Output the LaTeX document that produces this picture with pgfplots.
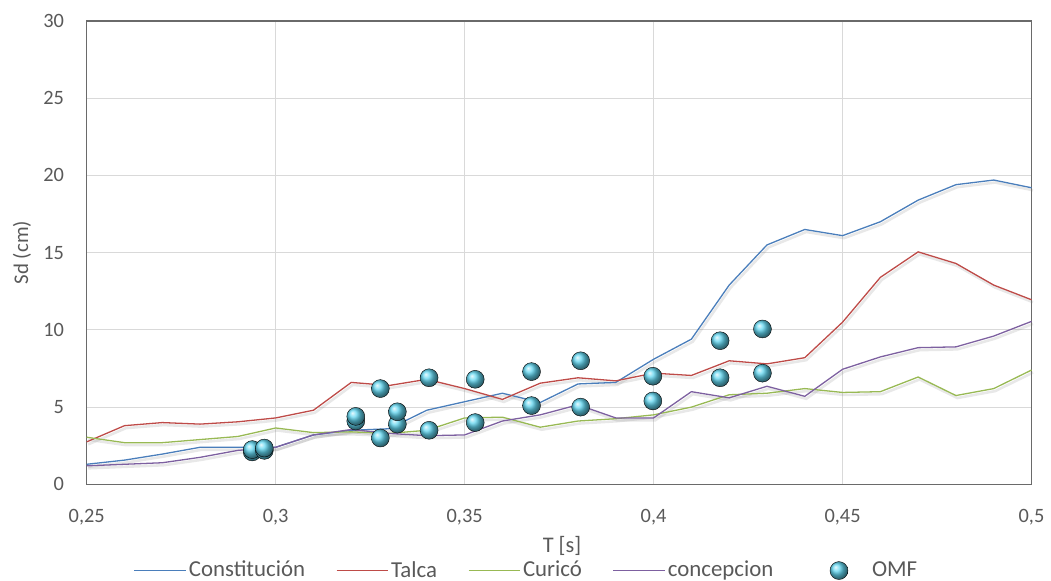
\documentclass[border=0pt]{standalone}
\usepackage{pgfplots}
\pgfplotsset{compat=1.18}
\usepackage{pgfplotstable}
\usepackage{fontspec}
\setmainfont{Carlito}
\definecolor{cblue}{HTML}{4A7EBB}
\definecolor{cred}{HTML}{BE4B48}
\definecolor{cgreen}{HTML}{98B954}
\definecolor{cpurple}{HTML}{7D60A0}
\definecolor{comf}{HTML}{62D6F0}
\definecolor{txt}{HTML}{595959}
\definecolor{gridc}{HTML}{D9D9D9}
\pgfplotsset{
  linelegend/.style={legend image code/.code={\draw[##1, line width=1.3pt] (0bp,0bp) -- (52bp,0bp);}},
  balllegend/.style={legend image code/.code={\draw[##1] plot coordinates {(35bp,0bp)}; \node[draw=none, fill=none, inner sep=0pt, minimum width=66bp, minimum height=2bp, anchor=west] at (0bp,0bp) {};}},
}
\pgfplotstableread{
T     con   tal   cur   cep
0.25  1.30  2.75  3.05  1.20
0.26  1.57  3.80  2.70  1.30
0.27  1.96  4.00  2.70  1.40
0.28  2.40  3.90  2.90  1.75
0.29  2.40  4.05  3.10  2.20
0.30  2.40  4.30  3.65  2.40
0.31  3.20  4.80  3.35  3.20
0.32  3.50  6.60  3.40  3.55
0.33  3.60  6.40  3.30  3.30
0.34  4.80  6.80  3.50  3.15
0.35  5.35  6.20  4.30  3.20
0.36  5.90  5.50  4.35  4.10
0.37  5.30  6.55  3.70  4.50
0.38  6.50  6.90  4.10  5.15
0.39  6.60  6.70  4.25  4.30
0.40  8.10  7.20  4.50  4.30
0.41  9.40  7.05  5.00  6.00
0.42  12.9  8.00  5.80  5.60
0.43  15.5  7.80  5.90  6.35
0.44  16.5  8.20  6.20  5.70
0.45  16.1  10.5  5.95  7.45
0.46  17.0  13.4  6.00  8.25
0.47  18.4  15.05 6.95  8.85
0.48  19.4  14.3  5.75  8.90
0.49  19.7  12.9  6.20  9.60
0.50  19.2  11.95 7.40  10.55
}\lines
\pgfplotstableread{
T      sd
0.2938 2.10
0.2938 2.25
0.2970 2.20
0.2970 2.35
0.3212 4.10
0.3212 4.40
0.3277 6.20
0.3277 3.00
0.3322 3.90
0.3322 4.70
0.3406 6.90
0.3406 3.50
0.3528 6.80
0.3528 4.00
0.3677 7.30
0.3677 5.10
0.3807 8.00
0.3807 5.00
0.3998 7.00
0.3998 5.40
0.4176 9.30
0.4176 6.90
0.4288 10.06
0.4288 7.20
}\omf
\begin{document}
\fontsize{20}{24}\selectfont
\begin{tikzpicture}
\begin{axis}[
  name=ax, at={(0,0)}, anchor=south west,
  scale only axis, width=948bp, height=465bp,
  xmin=0.25, xmax=0.5, ymin=0, ymax=30,
  xtick={0.25,0.3,0.35,0.4,0.45,0.5},
  ytick={0,5,10,15,20,25,30},
  xticklabels={{0,25},{0,3},{0,35},{0,4},{0,45},{0,5}},
  /pgf/number format/assume math mode=true,
  major tick length=0pt,
  grid=major,
  major grid style={gridc, line width=1.2pt},
  axis line style={draw=txt!90, line width=1.4pt},
  tick label style={text=txt, font=\fontsize{20.5}{24}\selectfont},
  yticklabel style={xshift=-16bp},
  xticklabel style={yshift=-18bp},
  xlabel={T [s]}, ylabel={Sd (cm)},
  every axis x label/.style={at={(axis description cs:0.503,-0.133)},anchor=center,text=txt,font=\fontsize{22.5}{24}\selectfont},
  every axis y label/.style={at={(axis description cs:-0.0686,0.5)},rotate=90,anchor=center,text=txt,font=\fontsize{21}{24}\selectfont},
  legend columns=5,
  legend style={at={(axis description cs:0.0496,-0.186)}, anchor=west, draw=none, fill=none,
    inner xsep=0pt, inner ysep=0pt, font=\fontsize{23}{26}\selectfont, text=txt,
    nodes={inner xsep=2bp, inner ysep=1bp},
    /tikz/every even column/.append style={column sep=29bp}},
  linelegend,
  clip=false,
]
\addplot[gray, opacity=0.18, line width=2.6pt, forget plot, xshift=1.5bp, yshift=-2.5bp] table[x=T,y=con] {\lines};
\addplot[gray, opacity=0.18, line width=2.6pt, forget plot, xshift=1.5bp, yshift=-2.5bp] table[x=T,y=tal] {\lines};
\addplot[gray, opacity=0.18, line width=2.6pt, forget plot, xshift=1.5bp, yshift=-2.5bp] table[x=T,y=cur] {\lines};
\addplot[gray, opacity=0.18, line width=2.6pt, forget plot, xshift=1.5bp, yshift=-2.5bp] table[x=T,y=cep] {\lines};
\addplot[cblue, line width=1.3pt] table[x=T,y=con] {\lines};
\addlegendentry{Constitución}
\addplot[cred, line width=1.3pt] table[x=T,y=tal] {\lines};
\addlegendentry{Talca}
\addplot[cgreen, line width=1.3pt] table[x=T,y=cur] {\lines};
\addlegendentry{Curicó}
\addplot[cpurple, line width=1.3pt] table[x=T,y=cep] {\lines};
\addlegendentry{concepcion}
\addplot[only marks, mark=ball, mark size=9bp, mark options={ball color=comf}, balllegend] table[x=T,y=sd] {\omf};
\addlegendentry{OMF}
\end{axis}
\path (ax.south west) ++(-87bp,-96bp) rectangle ++(1051bp,582bp);
\end{tikzpicture}
\end{document}
